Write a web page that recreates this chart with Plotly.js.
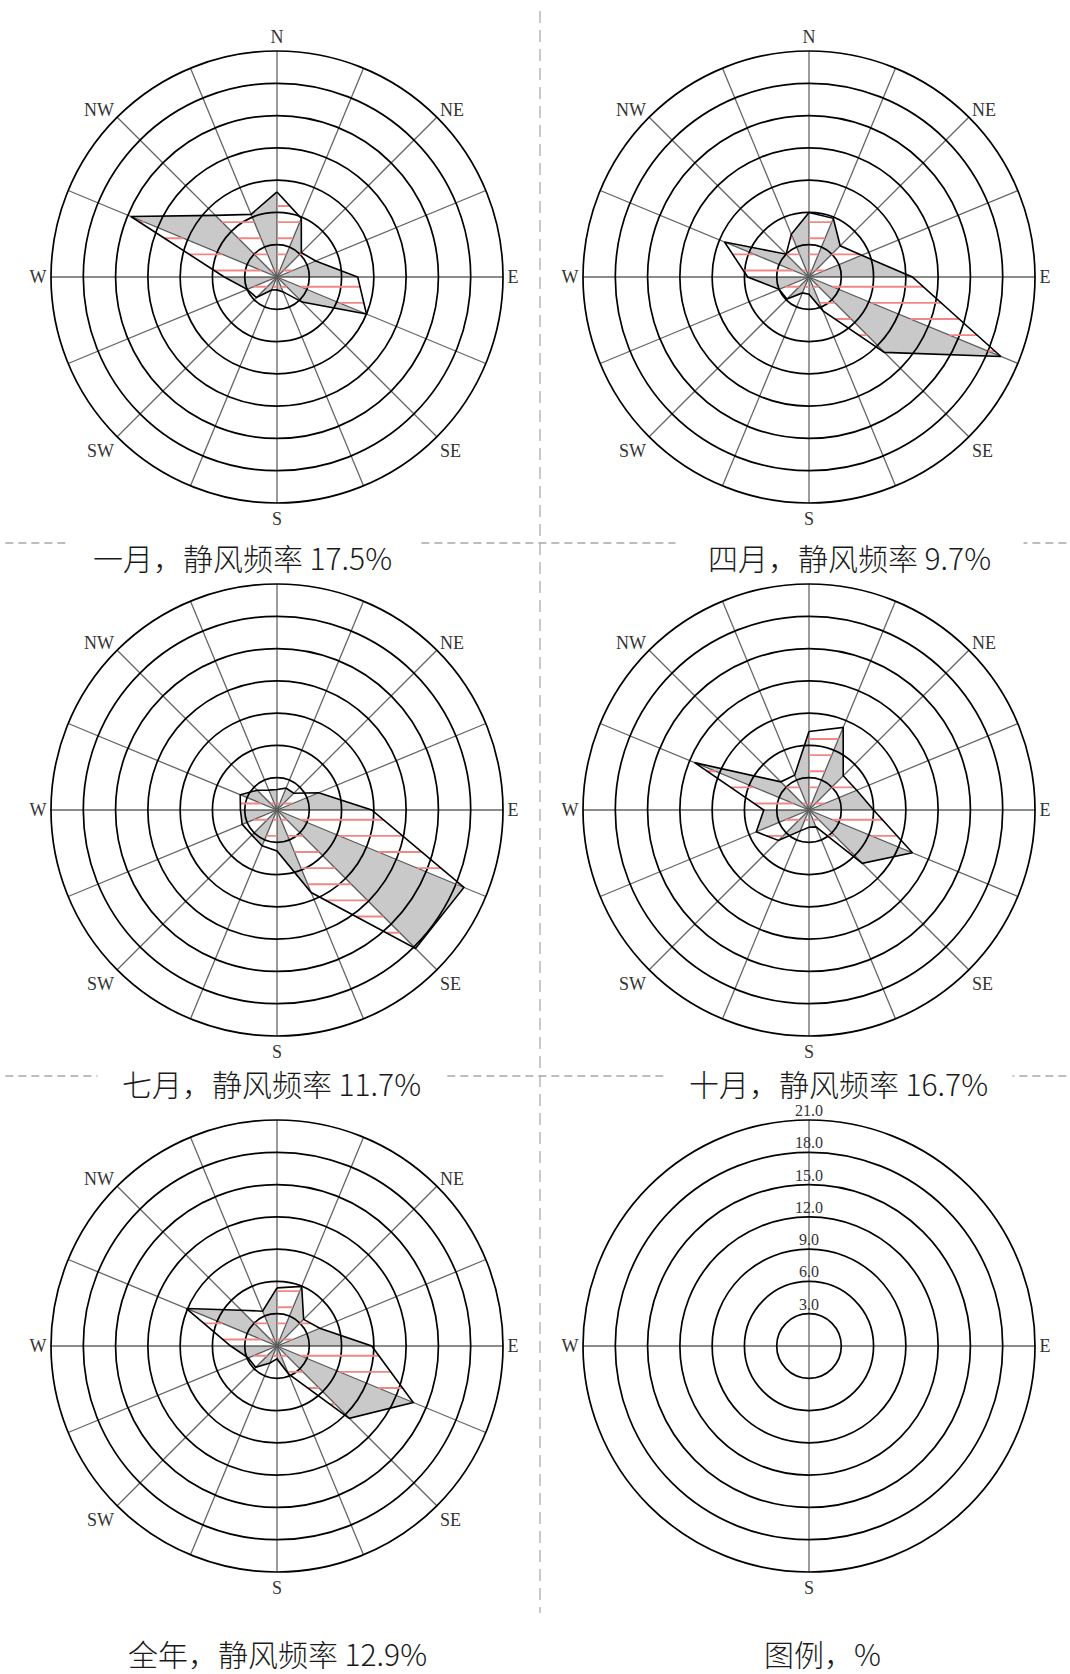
<!DOCTYPE html>
<html>
<head>
<meta charset="utf-8">
<script src="https://cdn.plot.ly/plotly-3.0.1.min.js"></script>
<style>
  html, body { margin: 0; padding: 0; background: #ffffff; }
  #chart { width: 1070px; height: 1674px; }
</style>
</head>
<body>
<div id="chart"></div>
<script>
// ---------------- data ----------------
const directions = ['N','NNE','NE','ENE','E','ESE','SE','SSE','S','SSW','SW','WSW','W','WNW','NW','NNW'];
const thetaDeg   = [0, 22.5, 45, 67.5, 90, 112.5, 135, 157.5, 180, 202.5, 225, 247.5, 270, 292.5, 315, 337.5];
const dirLabelsTop  = ['N','','NE','','E','','SE','','S','','SW','','W','','NW',''];
const dirLabelsLow  = ['','','NE','','E','','SE','','S','','SW','','W','','NW',''];

// wind direction frequency (%) for the 16 directions, N clockwise
const janFreq    = [7.9, 5.9, 3.2, 3.9, 7.5, 9.0, 3.3, 1.5, 1.2, 1.3, 2.7, 3.0, 4.9, 14.7, 8.1, 6.3];
const aprFreq    = [6.0, 5.9, 4.1, 5.3, 9.6, 19.3, 9.9, 3.4, 1.6, 1.6, 2.9, 3.0, 5.7, 8.5, 3.0, 4.3];
const julFreq    = [1.9, 2.2, 2.2, 4.2, 8.8, 18.8, 18.2, 8.3, 3.8, 3.6, 3.3, 3.5, 3.4, 3.7, 2.6, 2.0];
const octFreq    = [7.3, 8.3, 4.5, 4.8, 6.0, 10.4, 7.0, 1.7, 1.6, 2.1, 4.0, 5.3, 4.2, 11.5, 3.7, 3.5];
const annualFreq = [5.4, 6.0, 3.5, 4.3, 8.8, 13.7, 9.5, 2.8, 1.2, 1.7, 2.8, 2.9, 4.3, 9.1, 4.7, 3.5];

const ringVals   = [3, 6, 9, 12, 15, 18, 21];
const ringLabels = ['3.0', '6.0', '9.0', '12.0', '15.0', '18.0', '21.0'];

const titles = [
  '一月，静风频率 17.5%',
  '四月，静风频率 9.7%',
  '七月，静风频率 11.7%',
  '十月，静风频率 16.7%',
  '全年，静风频率 12.9%',
  '图例，%'
];

// ---------------- layout constants ----------------
const W = 1070, H = 1674;
const R = 226;                       // outer radius in px
const colX = [277, 809];
const rowY = [277, 810, 1346];
const titlePos = [[242, 557], [849, 557], [271, 1083], [838, 1083], [277, 1653], [822, 1653]];

const GRAYFILL = 'rgba(0,0,0,0.21)';
const HATCH = 'rgb(240,135,135)';
const HATCH_STEP = 1.5, HATCH_OFF = 0.6;

const roses = [janFreq, aprFreq, julFreq, octFreq, annualFreq];

function toXY(r, th) {
  const a = th * Math.PI / 180;
  return [r * Math.sin(a), r * Math.cos(a)];
}
function toPolar(x, y) {
  let th = Math.atan2(x, y) * 180 / Math.PI;
  if (th < 0) th += 360;
  return [Math.hypot(x, y), th];
}

function buildTraces(vals, sub) {
  const n = vals.length;
  // gray triangles (odd sectors)
  const fr = [], ft = [];
  for (let k = 1; k < n; k += 2) {
    const k2 = (k + 1) % n;
    fr.push(0, vals[k], vals[k2], 0, null);
    ft.push(thetaDeg[k], thetaDeg[k], thetaDeg[k2], thetaDeg[k], null);
  }
  // red hatching (even sectors)
  const hr = [], ht = [];
  for (let k = 0; k < n; k += 2) {
    const k2 = (k + 1) % n;
    const P = [[0, 0], toXY(vals[k], thetaDeg[k]), toXY(vals[k2], thetaDeg[k2])];
    const ys = P.map(p => p[1]);
    const ymin = Math.min(...ys), ymax = Math.max(...ys);
    const j0 = Math.ceil((ymin - HATCH_OFF) / HATCH_STEP);
    const j1 = Math.floor((ymax - HATCH_OFF) / HATCH_STEP);
    for (let j = j0; j <= j1; j++) {
      const y = HATCH_OFF + j * HATCH_STEP;
      const xs = [];
      for (let e = 0; e < 3; e++) {
        const A = P[e], B = P[(e + 1) % 3];
        if (A[1] === B[1]) continue;
        if ((A[1] - y) * (B[1] - y) <= 0) {
          xs.push(A[0] + (y - A[1]) / (B[1] - A[1]) * (B[0] - A[0]));
        }
      }
      if (xs.length < 2) continue;
      const xa = Math.min(...xs), xb = Math.max(...xs);
      if (xb - xa < 0.05) continue;
      const p1 = toPolar(xa, y), p2 = toPolar(xb, y);
      hr.push(p1[0], p2[0], null);
      ht.push(p1[1], p2[1], null);
    }
  }
  return [
    { type: 'scatterpolar', subplot: sub, r: fr, theta: ft, mode: 'lines',
      fill: 'toself', fillcolor: GRAYFILL, line: { width: 0, color: 'rgba(0,0,0,0)' },
      connectgaps: false, hoverinfo: 'skip', showlegend: false },
    { type: 'scatterpolar', subplot: sub, r: hr, theta: ht, mode: 'lines',
      line: { width: 1.9, color: HATCH }, connectgaps: false, hoverinfo: 'skip', showlegend: false },
    { type: 'scatterpolar', subplot: sub, r: vals.concat([vals[0]]), theta: thetaDeg.concat([thetaDeg[0]]),
      mode: 'lines', line: { width: 1.6, color: '#000' }, hoverinfo: 'text',
      text: directions.concat([directions[0]]), showlegend: false }
  ];
}

const data = [];
const layout = {
  width: W, height: H,
  margin: { l: 0, r: 0, t: 0, b: 0 },
  paper_bgcolor: '#ffffff',
  showlegend: false,
  shapes: [],
  annotations: []
};

function polarLayout(cx, cy, legend, topRow) {
  return {
    domain: { x: [(cx - R) / W, (cx + R) / W], y: [1 - (cy + R) / H, 1 - (cy - R) / H] },
    bgcolor: 'rgba(0,0,0,0)',
    angularaxis: {
      rotation: 90, direction: 'clockwise',
      tickmode: 'array',
      tickvals: legend ? [0, 90, 180, 270] : thetaDeg,
      ticktext: legend ? ['', 'E', 'S', 'W'] : (topRow ? dirLabelsTop : dirLabelsLow),
      ticks: '', showline: true, linecolor: '#000', linewidth: 1.7,
      showgrid: true, gridcolor: '#666666', gridwidth: 1.3,
      tickfont: { family: 'Liberation Serif, DejaVu Serif, serif', size: 18, color: '#333' }
    },
    radialaxis: {
      range: [0, 21], tickmode: 'array', tickvals: ringVals.slice(0, 6),
      showticklabels: false, ticks: '', showline: false,
      showgrid: true, gridcolor: '#000', gridwidth: 1.7
    }
  };
}

for (let i = 0; i < 6; i++) {
  const col = i % 2, row = Math.floor(i / 2);
  const sub = i === 0 ? 'polar' : 'polar' + (i + 1);
  layout[sub] = polarLayout(colX[col], rowY[row], i === 5, row === 0);
  if (i < 5) {
    data.push(...buildTraces(roses[i], sub));
  } else {
    data.push({
      type: 'scatterpolar', subplot: sub, r: ringVals, theta: ringVals.map(() => 0),
      mode: 'text', text: ringLabels, textposition: 'top center',
      textfont: { family: 'Liberation Serif, DejaVu Serif, serif', size: 16, color: '#333' },
      hoverinfo: 'skip', showlegend: false
    });
  }
  layout.annotations.push({
    xref: 'paper', yref: 'paper', x: titlePos[i][0] / W, y: 1 - titlePos[i][1] / H,
    xanchor: 'center', yanchor: 'middle', showarrow: false,
    text: titles[i], bgcolor: '#ffffff', borderpad: 1, width: 345, height: 32, align: 'center',
    font: { family: 'Noto Sans CJK SC, sans-serif', size: 30, weight: 300, color: '#1a1a1a' }
  });
}

// dashed separators
layout.shapes.push({
  type: 'line', xref: 'paper', yref: 'paper',
  x0: 540 / W, x1: 540 / W, y0: 1 - 11 / H, y1: 1 - 1613 / H,
  line: { color: '#b8b8b8', width: 1.5, dash: '12px,7px' }, layer: 'below'
});
[543, 1076].forEach(py => {
  layout.shapes.push({
    type: 'line', xref: 'paper', yref: 'paper',
    x0: 0.005, x1: 1, y0: 1 - py / H, y1: 1 - py / H,
    line: { color: '#a8a8a8', width: 1.3, dash: '8px,5px' }, layer: 'below'
  });
});

Plotly.newPlot('chart', data, layout, { staticPlot: true, displayModeBar: false });
</script>
</body>
</html>
